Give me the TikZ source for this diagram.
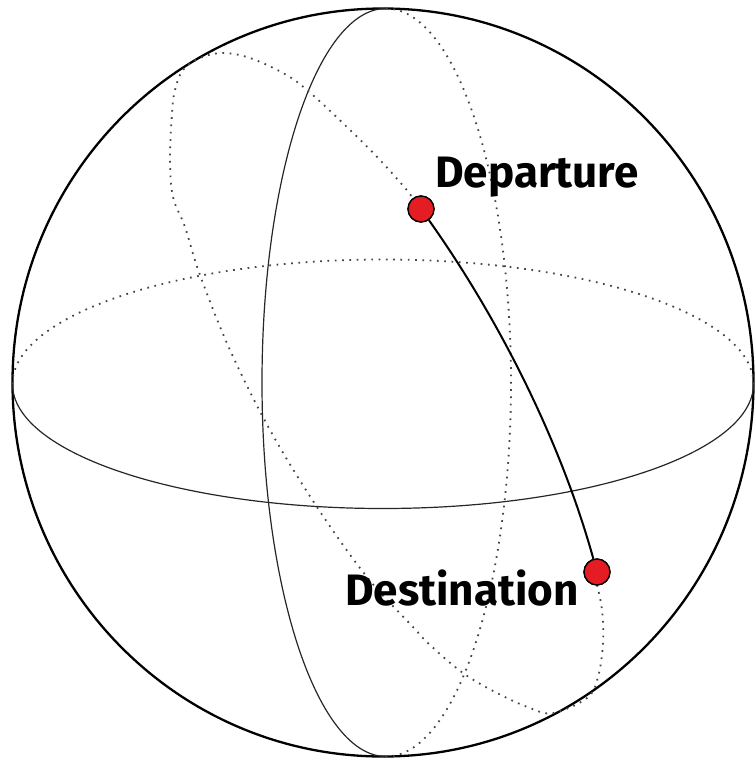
\documentclass[tikz,border=0pt]{standalone}
\usepackage{fontspec}
\setmainfont{Fira Sans}
\definecolor{dotred}{RGB}{228,28,36}
\definecolor{dotgray}{RGB}{70,70,70}
\tikzset{
  sphere/.style={line width=2.3pt, black},
  frontline/.style={line width=1.2pt, black!85},
  backline/.style={line width=1.8pt, dotgray, dash pattern=on 1.7pt off 5.6pt},
  route/.style={line width=2pt, black},
  citydot/.style={circle, fill=dotred, draw=black, line width=1.3pt, minimum size=26pt, inner sep=0pt},
  citylabel/.style={font=\bfseries\fontsize{44}{44}\selectfont, inner sep=0pt, text=black}
}
\begin{document}
\begin{tikzpicture}[x=1pt,y=-1pt]
\useasboundingbox (0,0) rectangle (755,758);
% sphere outline
\draw[sphere] (383,382.5) ellipse[x radius=370.5, y radius=374];
% equator
\draw[frontline] (12.5,384) arc[start angle=180, end angle=0, x radius=370.5, y radius=124.5];
\draw[backline] (12.5,384) arc[start angle=180, end angle=360, x radius=370.5, y radius=124.5];
% meridian
\draw[frontline] (386,8.5) arc[start angle=270, end angle=90, x radius=124, y radius=374];
\draw[backline] (386,8.5) arc[start angle=270, end angle=450, x radius=125, y radius=374];
% cities
\node[citydot] (dep) at (421,209) {};
\node[citydot] (dest) at (597,572) {};
% tilted great circle (back part)
\draw[backline] plot[smooth, tension=0.6] coordinates {
  (597,585) (602,610) (603,643) (598,677) (587,698) (553,713) (530,708)
  (497,693) (463,673) (430,645) (413,627) (367,577) (317,507) (270,430)
  (230,350) (200,275) (185,227) (173,197) (170,160) (172,113) (175,90)
  (183,70) (200,58) (223,53) (250,58) (283,73) (307,90) (347,127)
  (380,160) (405,188) (412,197)};
% route
\draw[route] (dep) .. controls (499,319) and (561,442) .. (dest);
\node[citydot] at (dep) {};
\node[citydot] at (dest) {};
% labels
\node[citylabel, anchor=base west] (deplabel) at (435,187) {Departure};
\node[citylabel, anchor=base west] (destlabel) at (345,605) {Destination};
\end{tikzpicture}
\end{document}
